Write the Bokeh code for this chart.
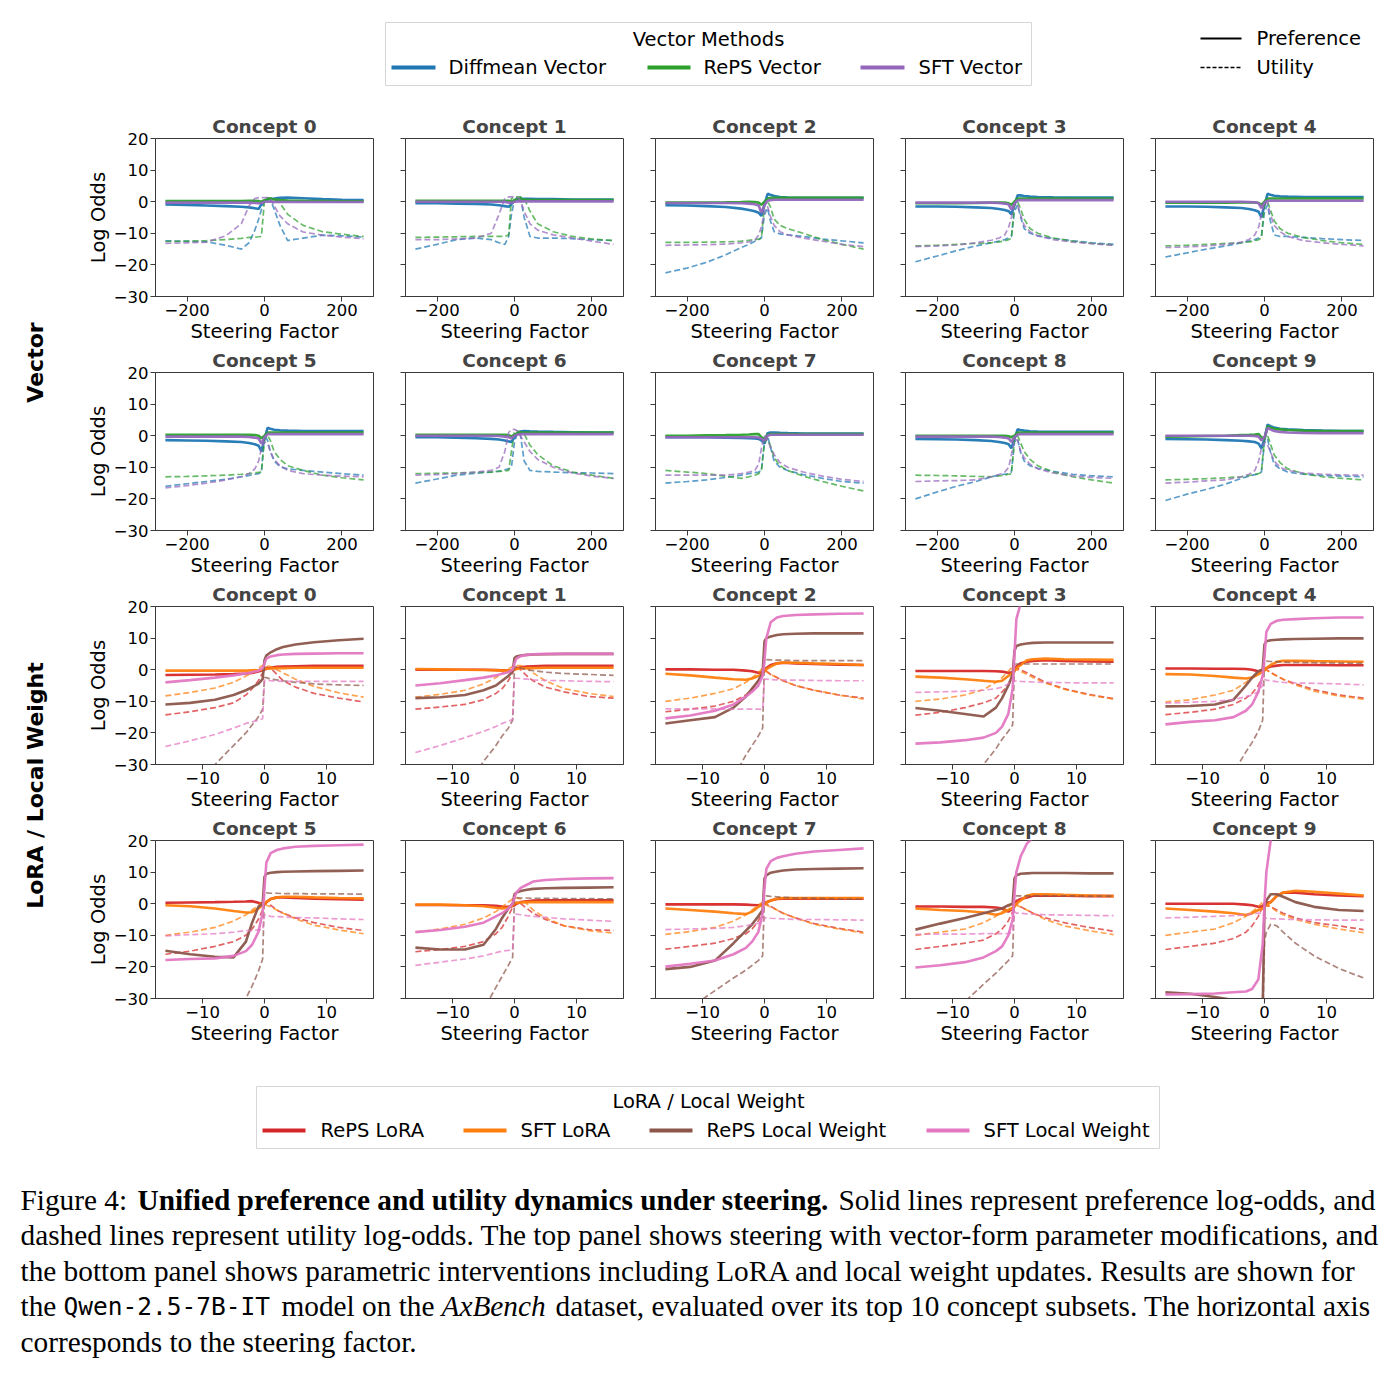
import math
from bokeh.plotting import figure
from bokeh.layouts import column, row
from bokeh.models import Range1d, FixedTicker
from bokeh.core.properties import value
from bokeh.embed import file_html
from bokeh.resources import INLINE

# ---------------------------------------------------------------- data
vector_x = [-256, -200, -150, -100, -60, -40, -25, -15, -8, 0, 8, 15, 25, 40, 60, 100, 150, 200, 256]
lora_x = [-16, -12, -8, -5, -3, -2, -1, -0.3, 0, 0.3, 1, 2, 3, 5, 8, 12, 16]

vector_ticks = [-200, 0, 200]
lora_ticks = [-10, 0, 10]
y_ticks = [-30, -20, -10, 0, 10, 20]

# Vector methods: preference log-odds (one list per concept)
diffmean_pref = [
    [-0.9, -1.0, -1.2, -1.4, -1.6, -1.8, -2.1, -2.3, -0.8, 0.3, 0.7, 0.9, 1.0, 1.2, 1.3, 1.1, 0.8, 0.6, 0.5],
    [-0.5, -0.5, -0.6, -0.7, -0.9, -1.1, -1.4, -1.6, -0.8, 0.3, 0.8, 0.9, 0.9, 0.9, 0.8, 0.8, 0.7, 0.7, 0.7],
    [-1.1, -1.2, -1.4, -1.7, -2.2, -2.6, -3.0, -3.5, -4.5, -1.0, 2.5, 2.2, 1.8, 1.5, 1.3, 1.2, 1.2, 1.2, 1.2],
    [-1.5, -1.5, -1.6, -1.8, -2.0, -2.3, -2.6, -3.0, -4.0, -1.0, 2.0, 2.0, 1.8, 1.6, 1.5, 1.4, 1.3, 1.3, 1.3],
    [-1.5, -1.5, -1.6, -1.8, -2.0, -2.3, -2.7, -3.2, -5.0, -1.0, 2.5, 2.2, 1.9, 1.7, 1.6, 1.5, 1.5, 1.5, 1.5],
    [-1.4, -1.5, -1.6, -1.8, -2.0, -2.3, -2.7, -3.2, -5.0, -1.0, 2.5, 2.2, 1.9, 1.7, 1.6, 1.5, 1.5, 1.5, 1.5],
    [-0.5, -0.5, -0.6, -0.8, -1.0, -1.2, -1.5, -1.8, -2.0, -0.5, 0.8, 1.3, 1.5, 1.4, 1.3, 1.2, 1.1, 1.0, 1.0],
    [-0.5, -0.5, -0.5, -0.6, -0.7, -0.8, -0.9, -1.0, -1.5, -2.5, 0.8, 1.0, 1.0, 0.9, 0.8, 0.7, 0.7, 0.7, 0.7],
    [-1.0, -1.1, -1.2, -1.4, -1.7, -2.0, -2.3, -2.7, -4.0, -1.0, 2.0, 1.8, 1.6, 1.4, 1.3, 1.2, 1.2, 1.2, 1.2],
    [-1.0, -1.1, -1.2, -1.4, -1.6, -1.8, -2.0, -2.5, -4.0, -1.0, 3.5, 3.0, 2.6, 2.2, 2.0, 1.8, 1.6, 1.5, 1.5],
]
reps_vec_pref = [
    [0.2, 0.2, 0.2, 0.2, 0.2, 0.3, 0.3, 0.2, 0.0, 0.5, 0.8, 0.8, 0.7, 0.5, 0.4, 0.3, 0.2, 0.1, 0.1],
    [0.3, 0.3, 0.3, 0.3, 0.3, 0.3, 0.3, 0.3, 0.0, 0.5, 0.8, 0.8, 0.7, 0.6, 0.5, 0.5, 0.5, 0.5, 0.5],
    [-0.3, -0.3, -0.3, -0.2, -0.1, 0.0, -0.1, -0.3, -1.0, 0.0, 1.0, 1.2, 1.2, 1.2, 1.2, 1.2, 1.2, 1.2, 1.2],
    [-0.5, -0.5, -0.5, -0.4, -0.3, -0.3, -0.3, -0.5, -1.0, 0.0, 1.0, 1.0, 1.0, 1.0, 1.0, 1.0, 1.0, 1.0, 1.0],
    [-0.3, -0.3, -0.3, -0.3, -0.2, -0.2, -0.2, -0.4, -1.0, 0.0, 1.0, 1.0, 1.0, 1.0, 1.0, 1.0, 1.0, 1.0, 1.0],
    [0.3, 0.3, 0.3, 0.3, 0.3, 0.3, 0.2, 0.0, -0.8, 0.0, 1.0, 1.0, 1.0, 1.0, 1.0, 1.0, 1.0, 1.0, 1.0],
    [0.3, 0.3, 0.3, 0.3, 0.3, 0.3, 0.3, 0.2, -0.2, 0.3, 0.8, 1.0, 1.0, 1.0, 1.0, 1.0, 1.0, 1.0, 1.0],
    [0.0, 0.0, 0.1, 0.2, 0.3, 0.4, 0.5, 0.5, -0.5, -1.0, 0.3, 0.5, 0.5, 0.5, 0.5, 0.5, 0.5, 0.5, 0.5],
    [0.0, 0.0, 0.0, 0.0, 0.0, 0.0, 0.0, -0.2, -0.5, 0.0, 1.0, 1.0, 1.0, 1.0, 1.0, 1.0, 1.0, 1.0, 1.0],
    [-0.3, -0.2, -0.1, 0.0, 0.2, 0.3, 0.4, 0.5, -0.5, -1.0, 3.0, 2.5, 2.2, 2.0, 1.8, 1.6, 1.5, 1.5, 1.5],
]
sft_vec_pref = [
    [-0.3, -0.3, -0.3, -0.3, -0.3, -0.3, -0.4, -0.5, -0.4, 0.0, 0.0, 0.0, -0.1, -0.1, -0.1, -0.1, -0.1, -0.1, -0.1],
    [0.0, 0.0, 0.0, 0.0, 0.0, 0.0, -0.1, -0.3, -0.3, 0.0, 0.1, 0.1, 0.1, 0.1, 0.1, 0.1, 0.1, 0.1, 0.1],
    [-0.4, -0.4, -0.4, -0.4, -0.5, -0.6, -0.8, -1.2, -3.5, -1.0, 0.3, 0.5, 0.6, 0.6, 0.6, 0.6, 0.6, 0.6, 0.6],
    [-0.3, -0.3, -0.3, -0.3, -0.3, -0.4, -0.6, -0.9, -2.5, -0.5, 0.4, 0.5, 0.5, 0.5, 0.5, 0.5, 0.5, 0.5, 0.5],
    [0.0, 0.0, 0.0, 0.0, 0.0, -0.1, -0.2, -0.5, -2.0, -0.3, 0.3, 0.3, 0.3, 0.3, 0.3, 0.3, 0.3, 0.3, 0.3],
    [-0.3, -0.3, -0.3, -0.3, -0.3, -0.4, -0.6, -0.9, -2.5, -0.5, 0.5, 0.5, 0.5, 0.5, 0.5, 0.5, 0.5, 0.5, 0.5],
    [0.0, 0.0, 0.0, 0.0, 0.0, -0.1, -0.3, -0.5, -0.8, 0.0, 0.4, 0.5, 0.5, 0.5, 0.5, 0.5, 0.5, 0.5, 0.5],
    [-0.5, -0.5, -0.5, -0.5, -0.5, -0.5, -0.5, -0.6, -1.0, -1.5, 0.0, 0.3, 0.3, 0.3, 0.3, 0.3, 0.3, 0.3, 0.3],
    [-0.3, -0.3, -0.3, -0.3, -0.3, -0.4, -0.6, -0.9, -2.0, -0.5, 0.4, 0.5, 0.5, 0.5, 0.5, 0.5, 0.5, 0.5, 0.5],
    [0.0, 0.0, 0.0, 0.0, 0.0, 0.0, -0.1, -0.3, -1.5, -0.5, 2.5, 2.0, 1.5, 1.2, 1.0, 0.9, 0.8, 0.8, 0.8],
]

# Vector methods: utility log-odds
diffmean_util = [
    [-12.4, -12.5, -12.7, -13.8, -15.0, -13.0, -9.0, -5.5, -2.5, 0.3, 1.2, 0.8, -2.4, -7.5, -12.3, -11.5, -10.6, -10.8, -11.2],
    [-15.0, -13.5, -12.0, -11.5, -12.0, -13.0, -13.5, -11.0, -4.0, 0.5, 1.5, 1.5, -5.0, -11.0, -11.5, -11.5, -11.7, -12.0, -12.3],
    [-22.5, -21.0, -19.2, -16.8, -14.5, -13.5, -12.5, -12.0, -11.5, -4.0, -2.0, -6.0, -9.5, -10.2, -10.5, -11.0, -11.8, -12.4, -13.0],
    [-19.0, -17.2, -15.5, -14.0, -13.0, -12.5, -12.0, -11.5, -11.0, -3.0, -1.0, -4.5, -8.5, -10.0, -10.8, -11.6, -12.4, -13.0, -13.5],
    [-17.5, -16.2, -15.0, -14.0, -13.0, -12.5, -12.0, -11.5, -11.0, -3.0, -1.0, -6.0, -10.5, -11.0, -11.0, -11.3, -11.7, -12.0, -12.3],
    [-16.0, -15.2, -14.5, -13.8, -13.0, -12.6, -12.2, -12.0, -11.5, 0.0, -1.5, -5.0, -8.0, -9.8, -10.5, -11.0, -11.5, -12.0, -12.5],
    [-15.0, -13.7, -12.5, -11.9, -11.5, -11.2, -10.8, -10.5, -10.0, -2.0, 1.0, 0.5, -8.0, -11.0, -11.3, -11.5, -11.7, -11.8, -12.0],
    [-15.0, -14.5, -14.0, -13.2, -12.5, -12.0, -11.7, -11.5, -11.0, -2.0, 0.0, -3.5, -8.0, -10.0, -11.0, -12.3, -13.5, -14.5, -15.0],
    [-20.0, -17.8, -16.0, -14.5, -13.0, -12.5, -12.2, -12.0, -11.5, -2.0, -1.0, -5.0, -8.0, -9.5, -10.3, -11.3, -12.2, -12.7, -13.0],
    [-20.5, -18.5, -17.0, -15.3, -13.5, -12.8, -12.3, -12.0, -11.5, -2.0, -1.0, -5.0, -9.0, -10.5, -11.5, -12.2, -12.6, -12.8, -13.0],
]
reps_vec_util = [
    [-12.6, -12.5, -12.3, -12.0, -11.6, -11.3, -11.2, -11.1, -11.0, 0.5, 1.2, 1.2, 1.0, -0.5, -4.0, -7.5, -9.5, -10.3, -11.0],
    [-11.3, -11.2, -11.1, -11.0, -11.0, -11.0, -11.0, -10.5, 1.0, 1.5, 1.5, 1.5, 1.0, -3.0, -7.0, -9.5, -11.0, -11.8, -12.3],
    [-12.9, -12.9, -12.8, -12.7, -12.5, -12.2, -12.0, -11.8, -11.5, -1.0, 0.0, -1.5, -5.5, -7.5, -8.5, -10.0, -12.0, -13.5, -15.0],
    [-14.0, -13.8, -13.5, -13.2, -13.0, -12.7, -12.4, -12.0, -11.5, -1.0, 0.0, -2.0, -5.5, -8.5, -10.0, -11.5, -12.5, -13.2, -13.7],
    [-14.0, -13.8, -13.5, -13.2, -13.0, -12.7, -12.4, -12.0, -11.5, -1.0, 0.0, -2.5, -6.0, -8.5, -10.0, -11.3, -12.3, -13.0, -13.5],
    [-13.0, -12.9, -12.7, -12.5, -12.2, -12.0, -11.8, -11.6, -11.5, -1.0, 0.0, -1.5, -5.0, -7.5, -9.5, -11.0, -12.5, -13.3, -14.0],
    [-12.0, -11.9, -11.8, -11.6, -11.5, -11.3, -11.2, -11.0, -5.0, 1.5, 1.5, 1.2, 0.5, -3.0, -6.0, -9.5, -11.5, -12.5, -13.5],
    [-11.0, -11.5, -12.0, -12.8, -13.5, -13.0, -12.5, -12.0, -11.0, -2.0, -1.0, -3.0, -7.0, -9.5, -11.0, -12.8, -14.5, -16.0, -17.5],
    [-12.5, -12.6, -12.7, -12.9, -13.0, -12.7, -12.4, -12.2, -12.0, -1.0, 0.0, -2.0, -5.0, -7.5, -9.5, -11.5, -13.0, -14.0, -15.0],
    [-14.0, -13.8, -13.6, -13.3, -13.0, -12.6, -12.3, -12.0, -11.5, -1.0, 0.0, -2.5, -6.0, -8.5, -10.5, -12.0, -13.0, -13.5, -14.0],
]
sft_vec_util = [
    [-13.2, -13.0, -12.8, -10.8, -7.0, -1.3, 1.0, 1.3, 1.3, 1.3, 1.3, 1.0, -1.3, -4.5, -7.0, -9.6, -10.6, -11.2, -11.7],
    [-12.0, -12.0, -11.8, -11.5, -10.0, -4.0, 1.0, 1.5, 1.5, 1.5, 1.3, 0.5, -3.0, -7.0, -9.0, -10.5, -11.5, -12.5, -13.5],
    [-13.8, -13.7, -13.6, -13.4, -13.0, -12.7, -12.2, -10.5, -8.0, -3.0, -1.5, -4.5, -7.5, -9.5, -10.5, -11.5, -12.5, -13.5, -14.2],
    [-14.2, -14.0, -13.7, -13.0, -12.2, -11.5, -10.5, -8.0, -5.0, -1.0, -1.0, -4.0, -7.5, -9.5, -10.8, -12.0, -12.8, -13.3, -13.8],
    [-14.5, -14.3, -14.0, -13.5, -12.8, -12.0, -10.5, -8.0, -4.0, 0.0, -0.5, -4.0, -7.5, -9.5, -11.0, -12.3, -13.0, -13.5, -14.0],
    [-16.5, -15.8, -15.0, -14.0, -13.0, -12.0, -10.5, -8.0, -4.0, -2.0, -2.5, -5.0, -7.5, -9.5, -11.0, -12.0, -12.5, -12.8, -13.0],
    [-12.5, -12.3, -12.0, -11.5, -11.0, -10.0, -5.0, 1.0, 2.0, 2.0, 1.5, 0.0, -2.0, -5.0, -7.5, -10.0, -11.8, -12.8, -13.5],
    [-12.5, -12.5, -12.5, -12.5, -12.0, -11.5, -11.0, -9.0, -4.0, 0.0, -1.5, -3.5, -6.0, -8.5, -10.0, -11.5, -12.8, -13.8, -14.5],
    [-14.5, -14.3, -14.2, -14.0, -13.0, -12.3, -11.5, -10.0, -6.0, -1.0, -1.5, -4.5, -7.0, -9.0, -10.5, -11.8, -12.7, -13.2, -13.5],
    [-15.0, -14.7, -14.3, -14.0, -13.0, -12.2, -11.0, -8.0, -4.0, -2.0, -3.0, -5.0, -8.0, -10.0, -11.0, -11.8, -12.2, -12.4, -12.5],
]

# LoRA / local weight: preference log-odds
reps_lora_pref = [
    [-1.7, -1.6, -1.5, -1.4, -1.2, -1.0, -0.6, -0.2, 0.0, 0.3, 0.6, 0.9, 1.0, 1.1, 1.2, 1.2, 1.2],
    [0.0, 0.0, 0.0, 0.0, -0.1, -0.2, -0.3, -0.2, 0.0, 0.4, 0.8, 1.0, 1.1, 1.2, 1.2, 1.2, 1.2],
    [0.1, 0.1, 0.0, 0.0, -0.3, -0.5, -1.0, -0.8, -0.5, 0.5, 1.5, 2.0, 2.2, 2.0, 1.8, 1.6, 1.5],
    [-0.4, -0.4, -0.4, -0.4, -0.5, -0.6, -1.0, -0.8, 0.0, 1.0, 2.0, 2.5, 2.8, 3.0, 2.8, 2.6, 2.5],
    [0.4, 0.4, 0.3, 0.3, 0.2, 0.0, -0.5, -0.3, 0.0, 0.5, 1.0, 1.3, 1.5, 1.5, 1.5, 1.4, 1.4],
    [0.3, 0.4, 0.5, 0.6, 0.7, 0.8, 0.3, 0.0, 0.0, 0.5, 1.5, 2.0, 2.0, 1.8, 1.6, 1.4, 1.3],
    [-0.4, -0.4, -0.5, -0.5, -0.7, -0.9, -1.0, -0.7, -0.5, 0.0, 0.5, 0.8, 1.0, 1.1, 1.1, 1.1, 1.1],
    [-0.2, -0.2, -0.2, -0.2, -0.3, -0.4, -0.5, -0.3, 0.0, 0.5, 1.0, 1.5, 1.6, 1.6, 1.6, 1.6, 1.6],
    [-0.9, -0.9, -1.0, -1.0, -1.2, -1.5, -2.5, -1.5, 0.0, 0.8, 1.5, 2.0, 2.5, 2.5, 2.5, 2.4, 2.4],
    [0.0, 0.0, 0.0, 0.0, -0.3, -0.5, -1.0, -0.8, 0.0, 0.3, 0.5, 2.5, 3.5, 3.5, 3.0, 2.6, 2.4],
]
sft_lora_pref = [
    [-0.3, -0.3, -0.3, -0.3, -0.3, -0.2, -0.1, 0.0, 0.2, 0.3, 0.4, 0.5, 0.5, 0.6, 0.6, 0.6, 0.6],
    [0.2, 0.1, 0.0, -0.1, -0.2, -0.3, -0.3, -0.2, 0.0, 0.2, 0.4, 0.5, 0.5, 0.6, 0.6, 0.6, 0.6],
    [-1.3, -1.8, -2.5, -3.0, -3.2, -2.8, -2.0, -1.0, -0.5, 0.2, 1.0, 2.0, 2.3, 2.2, 2.0, 1.8, 1.5],
    [-2.2, -2.5, -3.0, -3.5, -3.8, -3.5, -2.0, -1.0, -0.5, 0.5, 1.5, 3.0, 3.3, 3.5, 3.3, 3.2, 3.1],
    [-1.4, -1.5, -2.0, -2.5, -2.8, -2.5, -1.5, -0.6, -0.3, 0.5, 1.5, 2.5, 2.8, 2.8, 2.7, 2.6, 2.5],
    [-0.5, -0.8, -1.5, -2.3, -2.8, -2.7, -1.5, -0.5, 0.0, 0.5, 1.5, 2.0, 2.2, 2.2, 2.0, 1.8, 1.7],
    [-0.3, -0.3, -0.5, -0.8, -1.3, -1.5, -1.2, -0.5, 0.0, 0.2, 0.4, 0.5, 0.5, 0.5, 0.5, 0.5, 0.5],
    [-1.5, -2.0, -2.5, -3.0, -3.3, -2.5, -1.0, -0.3, 0.0, 0.3, 1.0, 1.6, 1.8, 1.8, 1.8, 1.8, 1.8],
    [-1.5, -2.0, -2.3, -2.8, -3.5, -3.0, -2.0, -1.3, -1.0, 0.0, 1.0, 2.5, 3.0, 3.0, 2.8, 2.6, 2.4],
    [-1.5, -2.0, -2.5, -3.0, -3.6, -3.0, -2.0, -1.5, -1.0, -0.5, 0.5, 2.5, 3.5, 4.1, 3.8, 3.2, 2.6],
]
reps_lw_pref = [
    [-11.0, -10.5, -9.5, -8.0, -6.5, -5.5, -4.5, -3.0, 3.0, 4.5, 5.5, 6.5, 7.2, 8.0, 8.7, 9.3, 9.8],
    [-9.0, -8.7, -8.0, -6.5, -5.0, -3.5, -2.0, -0.5, 3.7, 4.2, 4.5, 4.7, 4.8, 4.9, 5.0, 5.0, 5.0],
    [-17.0, -16.0, -15.0, -12.0, -8.5, -6.0, -3.5, -1.0, 9.0, 10.0, 10.5, 11.0, 11.2, 11.4, 11.5, 11.5, 11.5],
    [-12.1, -13.0, -14.0, -14.8, -12.0, -9.0, -5.0, -1.5, 6.0, 7.5, 8.0, 8.3, 8.5, 8.6, 8.6, 8.6, 8.6],
    [-11.6, -11.5, -11.0, -9.5, -5.0, -2.5, -0.5, 0.0, 8.0, 9.0, 9.3, 9.5, 9.6, 9.7, 9.8, 9.9, 9.9],
    [-14.9, -16.0, -16.8, -17.0, -12.0, -6.0, -1.0, 0.0, 8.5, 9.5, 9.8, 10.0, 10.1, 10.2, 10.3, 10.4, 10.5],
    [-13.9, -14.5, -14.5, -13.0, -8.0, -4.5, -1.5, 0.0, 3.0, 3.5, 4.0, 4.4, 4.7, 4.9, 5.0, 5.1, 5.2],
    [-20.7, -20.0, -18.0, -12.5, -8.5, -6.5, -4.0, -2.0, 8.0, 9.0, 9.8, 10.2, 10.5, 10.8, 11.0, 11.1, 11.2],
    [-8.2, -6.3, -4.5, -3.0, -2.0, -1.5, -0.5, 0.0, 8.0, 9.0, 9.5, 9.6, 9.7, 9.7, 9.7, 9.6, 9.6],
    [-28.0, -28.5, -29.5, -30.5, -31.5, -32.0, -33.0, -34.0, -1.0, 1.0, 3.0, 3.0, 2.2, 0.5, -1.0, -2.0, -2.3],
]
sft_lw_pref = [
    [-4.0, -3.3, -2.5, -1.8, -1.2, -0.8, -0.3, 0.5, 2.0, 3.5, 4.2, 4.6, 4.8, 5.0, 5.1, 5.2, 5.2],
    [-5.0, -4.3, -3.3, -2.5, -1.8, -1.3, -0.8, 0.0, 2.0, 3.5, 4.3, 4.7, 4.9, 5.0, 5.0, 5.0, 5.0],
    [-15.4, -14.5, -13.0, -11.0, -8.5, -7.0, -5.0, -2.0, 3.0, 10.0, 15.0, 16.5, 17.0, 17.3, 17.5, 17.7, 17.8],
    [-23.4, -23.0, -22.3, -21.5, -20.0, -18.0, -14.0, -6.0, 5.0, 16.0, 21.0, 23.0, 24.0, 25.0, 25.0, 25.0, 25.0],
    [-17.3, -16.5, -16.0, -15.0, -13.0, -11.0, -7.0, -2.0, 4.0, 12.0, 14.5, 15.5, 15.8, 16.0, 16.3, 16.5, 16.5],
    [-17.8, -17.5, -17.3, -16.5, -15.0, -13.0, -9.0, -3.0, 5.0, 13.0, 16.0, 17.0, 17.5, 18.0, 18.3, 18.5, 18.7],
    [-9.0, -8.3, -7.3, -6.0, -4.0, -3.0, -1.5, 0.0, 2.0, 3.5, 5.0, 6.0, 7.0, 7.5, 7.8, 8.0, 8.1],
    [-19.9, -19.0, -18.0, -16.0, -14.0, -12.0, -9.0, -3.0, 5.0, 11.0, 13.5, 14.5, 15.0, 15.8, 16.5, 17.0, 17.5],
    [-20.2, -19.5, -18.5, -17.0, -15.0, -13.5, -10.0, -5.0, 3.0, 10.0, 15.0, 19.0, 21.0, 22.0, 23.0, 23.5, 24.0],
    [-28.7, -28.6, -28.4, -28.0, -27.8, -27.0, -24.0, -13.0, 0.0, 10.0, 20.0, 24.0, 26.0, 27.0, 28.0, 28.0, 28.0],
]

# LoRA / local weight: utility log-odds
reps_lora_util = [
    [-14.3, -13.3, -12.0, -10.5, -8.0, -6.0, -3.5, -1.0, 0.5, 0.8, 0.5, -1.5, -3.5, -5.5, -7.5, -9.0, -10.2],
    [-12.5, -11.8, -11.0, -9.5, -7.5, -6.0, -3.5, -1.0, 0.5, 0.8, 0.0, -2.0, -3.5, -5.5, -7.0, -8.5, -9.0],
    [-13.3, -12.5, -11.5, -10.0, -8.0, -6.0, -3.5, -1.0, 0.0, -0.5, -1.5, -2.5, -3.5, -5.0, -6.5, -8.0, -9.0],
    [-14.4, -13.5, -12.0, -10.5, -9.0, -7.0, -5.0, -2.5, 0.0, 0.5, 0.0, -1.0, -2.0, -4.0, -6.0, -7.8, -9.2],
    [-14.2, -13.5, -12.5, -11.0, -9.0, -7.5, -5.0, -2.0, 0.0, 0.0, -0.8, -2.0, -3.0, -4.5, -6.3, -8.0, -9.0],
    [-16.0, -15.0, -13.5, -12.0, -10.0, -8.0, -5.0, -2.0, 0.0, 0.0, -0.5, -2.0, -3.0, -4.5, -6.0, -7.5, -8.5],
    [-15.2, -14.5, -13.5, -12.0, -9.5, -7.5, -4.0, -1.0, 0.0, 0.5, 0.0, -1.5, -3.0, -5.0, -7.0, -8.2, -8.5],
    [-14.4, -13.5, -12.5, -11.0, -9.5, -8.0, -5.5, -2.5, 0.0, 0.0, -0.8, -2.0, -3.0, -4.5, -6.3, -7.8, -9.0],
    [-14.5, -13.5, -12.5, -11.5, -9.5, -8.0, -5.5, -2.5, 0.0, 0.0, -1.0, -2.0, -3.0, -4.5, -6.0, -7.5, -8.7],
    [-14.5, -13.5, -12.5, -11.0, -9.0, -7.0, -4.0, -1.0, 0.0, -0.5, -1.0, -2.0, -3.0, -4.5, -6.0, -7.0, -8.2],
]
sft_lora_util = [
    [-8.3, -7.2, -5.8, -4.0, -2.0, -1.0, 0.5, 1.3, 1.4, 1.3, 1.0, 0.0, -1.0, -3.0, -5.3, -7.3, -8.7],
    [-8.7, -7.8, -6.5, -4.5, -2.5, -1.2, 0.3, 1.0, 1.2, 1.3, 1.3, 0.5, -1.0, -3.5, -6.0, -7.5, -8.5],
    [-10.0, -9.0, -7.5, -6.0, -4.0, -2.5, -1.0, 0.5, 0.0, -0.5, -1.5, -2.5, -3.5, -5.0, -6.5, -8.0, -9.3],
    [-10.0, -9.3, -8.0, -6.3, -4.0, -2.5, -0.5, 1.0, 0.5, 0.0, -0.5, -1.5, -2.5, -4.2, -6.2, -8.0, -9.3],
    [-10.2, -9.5, -8.0, -6.5, -4.0, -2.5, -1.0, 0.5, 0.5, 0.0, -1.0, -2.0, -3.0, -4.8, -6.8, -8.3, -9.3],
    [-10.0, -9.0, -7.5, -5.5, -3.5, -2.0, -0.5, 0.5, 0.0, -0.5, -1.0, -2.0, -3.0, -4.8, -6.8, -8.3, -9.5],
    [-9.0, -8.0, -6.5, -4.5, -2.5, -1.0, 0.5, 1.5, 2.0, 1.8, 1.5, 0.0, -2.0, -4.5, -7.0, -8.5, -9.3],
    [-9.7, -8.8, -7.5, -5.5, -3.5, -2.0, -0.5, 0.5, 0.0, -0.5, -1.0, -2.0, -3.0, -4.5, -6.5, -8.0, -9.3],
    [-10.0, -9.0, -8.0, -6.0, -4.0, -2.5, -1.0, 0.0, 0.0, -0.5, -1.0, -2.0, -3.0, -5.0, -7.0, -8.5, -9.8],
    [-10.0, -9.0, -8.0, -6.0, -4.0, -2.5, -1.0, 0.5, 0.0, -0.5, -1.0, -2.5, -3.5, -5.0, -6.5, -8.0, -9.2],
]
reps_lw_util = [
    [-48, -38, -30, -24, -20, -17.5, -15, -12.5, -2.5, -2.5, -3.0, -3.2, -3.5, -4.0, -4.5, -4.8, -5.0],
    [-62, -50, -38, -29, -24, -21, -18.5, -16, 1.0, 1.0, 0.5, 0.0, -0.3, -0.8, -1.2, -1.5, -1.8],
    [-67, -55, -43, -34, -27, -24, -21, -18.5, 3.2, 3.2, 3.1, 3.0, 3.0, 2.9, 2.9, 2.9, 2.9],
    [-66, -54, -42, -30, -25, -22, -19.5, -17.5, 1.7, 1.8, 1.8, 1.8, 1.8, 1.8, 1.8, 1.8, 1.8],
    [-68, -55, -42, -32.5, -26, -23, -19.5, -16, 2.7, 2.7, 2.6, 2.5, 2.4, 2.3, 2.2, 2.1, 2.0],
    [-80, -65, -50, -38, -30, -26, -21.5, -17.5, 3.4, 3.4, 3.3, 3.3, 3.2, 3.2, 3.1, 3.1, 3.0],
    [-72, -58, -44, -33.5, -26.5, -23, -19.5, -17, 1.9, 1.9, 1.8, 1.8, 1.7, 1.7, 1.6, 1.6, 1.5],
    [-38, -33, -27.5, -23.5, -21, -19.5, -18, -16.5, 2.5, 2.5, 2.3, 2.2, 2.0, 1.8, 1.7, 1.5, 1.4],
    [-47, -39, -31, -25.5, -22, -20, -18, -16.5, 2.5, 2.5, 2.5, 2.5, 2.5, 2.5, 2.5, 2.4, 2.4],
    [-80, -70, -60, -52, -47, -45, -42, -40, -12, -9, -6.5, -7, -9, -12.5, -16.5, -20.5, -23.5],
]
sft_lw_util = [
    [-24.3, -22.5, -20.5, -18.5, -17.0, -16.5, -16.0, -15.5, -3.3, -3.4, -3.5, -3.6, -3.7, -3.7, -3.7, -3.7, -3.7],
    [-26.2, -24.0, -21.5, -19.5, -18.0, -17.0, -16.3, -15.8, -2.7, -2.7, -2.8, -3.0, -3.2, -3.4, -3.5, -3.7, -3.8],
    [-12.4, -12.4, -12.4, -12.5, -12.5, -12.5, -12.5, -12.6, -3.0, -3.0, -3.1, -3.2, -3.3, -3.3, -3.4, -3.5, -3.5],
    [-7.2, -7.0, -6.8, -6.5, -6.0, -5.5, -4.5, -3.0, -3.5, -3.6, -3.7, -3.8, -3.9, -4.0, -4.1, -4.2, -4.2],
    [-10.6, -10.3, -10.0, -9.5, -8.5, -8.0, -7.0, -5.0, -3.0, -3.3, -3.5, -3.8, -4.0, -4.2, -4.3, -4.5, -4.8],
    [-10.2, -9.8, -9.5, -9.0, -8.5, -8.5, -8.3, -8.3, -3.5, -3.7, -4.0, -4.1, -4.2, -4.4, -4.5, -4.8, -5.0],
    [-19.5, -18.5, -17.5, -16.5, -15.5, -15.0, -14.8, -14.5, -3.3, -3.3, -3.5, -3.8, -4.0, -4.3, -4.8, -5.2, -5.6],
    [-8.2, -8.0, -7.8, -7.5, -7.0, -6.5, -6.2, -6.0, -4.5, -4.5, -4.6, -4.7, -4.8, -5.0, -5.0, -5.1, -5.2],
    [-9.7, -9.6, -9.6, -9.5, -9.5, -9.5, -9.5, -9.0, -2.5, -3.0, -3.0, -3.2, -3.3, -3.5, -3.6, -3.7, -3.8],
    [-4.5, -4.3, -4.0, -3.8, -3.5, -3.3, -3.0, -3.0, -4.5, -4.6, -4.7, -4.8, -4.9, -5.0, -5.1, -5.2, -5.2],
]

vector_methods = ["Diffmean Vector", "RePS Vector", "SFT Vector"]
lora_methods = ["RePS LoRA", "SFT LoRA", "RePS Local Weight", "SFT Local Weight"]

# ---------------------------------------------------------------- style
FONT = "DejaVu Sans"
SERIF = "Liberation Serif"
MONO = "DejaVu Sans Mono"
SPINE = "#3a3a3a"
vector_colors = ["#1f77b4", "#2ca02c", "#9467bd"]
lora_colors = ["#d62728", "#ff7f0e", "#8c564b", "#e377c2"]

vector_series = [
    (diffmean_pref, diffmean_util),
    (reps_vec_pref, reps_vec_util),
    (sft_vec_pref, sft_vec_util),
]
lora_series = [
    (reps_lora_pref, reps_lora_util),
    (sft_lora_pref, sft_lora_util),
    (reps_lw_pref, reps_lw_util),
    (sft_lw_pref, sft_lw_util),
]

TOP_H = 111      # height of the strip holding the upper legends
CELL_H = 234     # height of one subplot cell
BORDER_TOP = 27  # room for the subplot title above each frame
BORDER_BOTTOM = 47


def minus(v):
    return str(v).replace("-", "\u2212")


def panel(concept, col, is_vector):
    xs = vector_x if is_vector else lora_x
    half = 256 * 1.1 if is_vector else 16 * 1.1
    first = col == 0
    p = figure(
        width=300 if first else 250, height=CELL_H,
        min_border_left=80 if first else 30, min_border_right=2,
        min_border_top=BORDER_TOP, min_border_bottom=BORDER_BOTTOM,
        x_range=Range1d(-half, half), y_range=Range1d(-30, 20),
        title=f"Concept {concept}",
        output_backend="svg", toolbar_location=None,
    )
    p.title.text_font = FONT
    p.title.text_font_size = "18.5px"
    p.title.text_font_style = "bold"
    p.title.align = "center"
    p.title.standoff = 4
    p.grid.visible = False
    p.outline_line_color = SPINE
    p.outline_line_width = 1
    p.background_fill_color = "white"
    p.border_fill_color = "white"

    xt = vector_ticks if is_vector else lora_ticks
    p.xaxis.ticker = FixedTicker(ticks=xt)
    p.xaxis.major_label_overrides = {t: minus(t) for t in xt}
    p.xaxis.axis_label = "Steering Factor"
    p.yaxis.ticker = FixedTicker(ticks=y_ticks)
    if first:
        p.yaxis.major_label_overrides = {t: minus(t) for t in y_ticks}
        p.yaxis.axis_label = "Log Odds"
    else:
        p.yaxis.major_label_overrides = {t: "" for t in y_ticks}
    for ax in (p.xaxis[0], p.yaxis[0]):
        ax.axis_line_color = SPINE
        ax.major_tick_line_color = SPINE
        ax.major_tick_in = 0
        ax.major_tick_out = 5
        ax.minor_tick_line_color = None
        ax.major_label_text_font = FONT
        ax.major_label_text_font_size = "16.5px"
        ax.major_label_text_color = "black"
        ax.major_label_standoff = 2
        ax.axis_label_text_font = FONT
        ax.axis_label_text_font_size = "19.5px"
        ax.axis_label_text_font_style = "normal"
        ax.axis_label_text_color = "black"
        ax.axis_label_standoff = 1

    series = vector_series if is_vector else lora_series
    colors = vector_colors if is_vector else lora_colors
    for (pref, util), c in zip(series, colors):
        yp, yu = pref[concept], util[concept]
        if len(yp) != len(xs) or len(yu) != len(xs):
            raise ValueError(f"series length mismatch in concept {concept}")
        p.line(xs, yp, line_color=c, line_width=2.6, line_alpha=0.95)
        p.line(xs, yu, line_color=c, line_width=1.7, line_alpha=0.72, line_dash="6 3")
    return p


def canvas(w, h):
    c = figure(
        width=w, height=h, x_range=Range1d(0, w), y_range=Range1d(h, 0),
        x_axis_location=None, y_axis_location=None, min_border=0,
        output_backend="svg", toolbar_location=None,
    )
    c.outline_line_color = None
    c.grid.visible = False
    c.background_fill_color = "white"
    c.border_fill_color = "white"
    return c


def legend_block(c, box, title, title_xy, swatch_x, label_x, item_y, names, colors):
    left, right, top, bottom = box
    c.quad(left=[left], right=[right], top=[top], bottom=[bottom],
           fill_color="white", line_color="#d6d6d6", line_width=1)
    c.text(x=[title_xy[0]], y=[title_xy[1]], text=[title], text_font=value(FONT),
           text_font_size=value("19.5px"), text_align="center", text_baseline="middle",
           text_color="black")
    c.segment(x0=[s[0] for s in swatch_x], x1=[s[1] for s in swatch_x],
              y0=[item_y] * len(names), y1=[item_y] * len(names),
              line_color=colors, line_width=4)
    c.text(x=label_x, y=[item_y] * len(names), text=names, text_font=value(FONT),
           text_font_size=value("19.5px"), text_align="left", text_baseline="middle",
           text_color="black")


# ---------------------------------------------------------------- top legends
top = canvas(1399, TOP_H)
legend_block(top, (385, 1031, 22, 85), "Vector Methods", (708, 39),
             [(391, 435), (647, 690), (860, 904)], [448, 703, 918], 67,
             vector_methods, vector_colors)
top.segment(x0=[1200], x1=[1241], y0=[38], y1=[38], line_color="black", line_width=2)
top.segment(x0=[1200], x1=[1241], y0=[67], y1=[67], line_color="black", line_width=1.5,
            line_dash="4 2")
top.text(x=[1256, 1256], y=[38, 67], text=["Preference", "Utility"], text_font=value(FONT),
         text_font_size=value("19.5px"), text_align="left", text_baseline="middle",
         text_color="black")

# ---------------------------------------------------------------- panels
grid_rows = []
for r in range(4):
    is_vector = r < 2
    grid_rows.append(row(*[panel((r % 2) * 5 + c, c, is_vector) for c in range(5)]))

strip = canvas(75, 4 * CELL_H)
strip.text(x=[35, 35], y=[362 - TOP_H, 785 - TOP_H], text=["Vector", "LoRA / Local Weight"],
           angle=math.pi / 2, text_font=value(FONT), text_font_size=value("22px"),
           text_font_style="bold", text_align="center", text_baseline="middle",
           text_color="black")

body = row(strip, column(*grid_rows))

# ---------------------------------------------------------------- bottom legend
bottom_top = TOP_H + 4 * CELL_H          # page y where the lower legend strip starts
bottom = canvas(1399, 1160 - bottom_top)
legend_block(bottom, (256, 1159, 1086 - bottom_top, 1148 - bottom_top), "LoRA / Local Weight",
             (708, 1101 - bottom_top),
             [(262, 305), (463, 506), (649, 692), (926, 969)], [320, 520, 706, 983],
             1130 - bottom_top, lora_methods, lora_colors)

# ---------------------------------------------------------------- caption
cap = canvas(1399, 215)
base = [39, 74.5, 110, 145.5, 181]
segments = [
    (20, base[0], "Figure 4:", "normal", SERIF),
    (137, base[0], "Unified preference and utility dynamics under steering.", "bold", SERIF),
    (838, base[0], "Solid lines represent preference log-odds, and", "normal", SERIF),
    (20, base[1], "dashed lines represent utility log-odds. The top panel shows steering with vector-form parameter modifications, and", "normal", SERIF),
    (20, base[2], "the bottom panel shows parametric interventions including LoRA and local weight updates. Results are shown for", "normal", SERIF),
    (20, base[3], "the", "normal", SERIF),
    (63, base[3], "Qwen-2.5-7B-IT", "normal", MONO),
    (281, base[3], "model on the", "normal", SERIF),
    (441, base[3], "AxBench", "italic", SERIF),
    (555, base[3], "dataset, evaluated over its top 10 concept subsets. The horizontal axis", "normal", SERIF),
    (20, base[4], "corresponds to the steering factor.", "normal", SERIF),
]
for x, y, t, style, fnt in segments:
    size = "24.5px" if fnt == MONO else "29.3px"
    cap.text(x=[x], y=[y], text=[t], text_font=value(fnt), text_font_size=value(size),
             text_font_style=style, text_align="left", text_baseline="alphabetic",
             text_color="black")

page = column(top, body, bottom, cap)
open("out.html", "w").write(file_html(page, INLINE, "Unified preference and utility dynamics"))
